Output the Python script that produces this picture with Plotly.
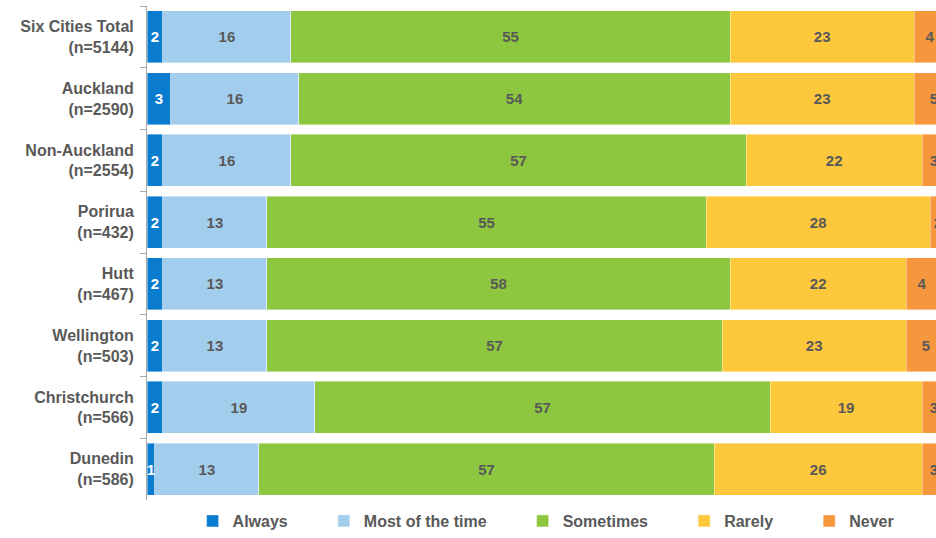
import plotly.graph_objects as go

CITIES = [
    "Six Cities Total<br>(n=5144)",
    "Auckland<br>(n=2590)",
    "Non-Auckland<br>(n=2554)",
    "Porirua<br>(n=432)",
    "Hutt<br>(n=467)",
    "Wellington<br>(n=503)",
    "Christchurch<br>(n=566)",
    "Dunedin<br>(n=586)",
]

ALWAYS = [2, 3, 2, 2, 2, 2, 2, 1]
MOST_OF_THE_TIME = [16, 16, 16, 13, 13, 13, 19, 13]
SOMETIMES = [55, 54, 57, 55, 58, 57, 57, 57]
RARELY = [23, 23, 22, 28, 22, 23, 19, 26]
NEVER = [4, 5, 3, 2, 4, 5, 3, 3]

SERIES = [
    ("Always", ALWAYS, "#0a7cd0", "white"),
    ("Most of the time", MOST_OF_THE_TIME, "#a3cded", "#595959"),
    ("Sometimes", SOMETIMES, "#8dc63f", "#595959"),
    ("Rarely", RARELY, "#fdc83c", "#595959"),
    ("Never", NEVER, "#f7973d", "#595959"),
]

FONT = "Liberation Sans, Arial, sans-serif"
GREY = "#595959"
PAD = "\u00a0" * 7  # extra room between legend entries

fig = go.Figure()
for name, values, color, text_color in SERIES:
    fig.add_trace(
        go.Bar(
            y=CITIES,
            x=values,
            name=name + PAD,
            orientation="h",
            marker={"color": color, "line": {"color": "rgba(255,255,255,0.5)", "width": 0.8}},
            text=[str(v) for v in values],
            textposition="inside",
            insidetextanchor="middle",
            textangle=0,
            textfont={"family": FONT, "size": 15, "color": text_color, "weight": "bold"},
        )
    )

fig.update_layout(
    barmode="stack",
    bargap=0.16,
    width=936,
    height=538,
    margin={"l": 147, "r": 0, "t": 6, "b": 38},
    paper_bgcolor="white",
    plot_bgcolor="white",
    font={"family": FONT, "color": GREY},
    uniformtext={"minsize": 15, "mode": "show"},
    legend={
        "orientation": "h",
        "traceorder": "normal",
        "xref": "container",
        "yref": "container",
        "x": 0.6,
        "xanchor": "center",
        "y": -0.007,
        "yanchor": "bottom",
        "font": {"family": FONT, "size": 16, "color": GREY, "weight": "bold"},
        "itemclick": False,
    },
    showlegend=True,
)
fig.update_xaxes(range=[0, 98.75], visible=False, fixedrange=True)
fig.update_yaxes(
    autorange="reversed",
    showline=True,
    linecolor="#a6a6a6",
    linewidth=1,
    ticks="outside",
    tickson="boundaries",
    ticklen=6,
    tickcolor="#a6a6a6",
    tickfont={"family": FONT, "size": 16, "color": GREY, "weight": "bold"},
    ticklabelstandoff=9,
    showgrid=False,
)

fig.write_html(
    "out.html",
    config={"displayModeBar": False},
    post_script="document.body.style.margin = '0';",
)
